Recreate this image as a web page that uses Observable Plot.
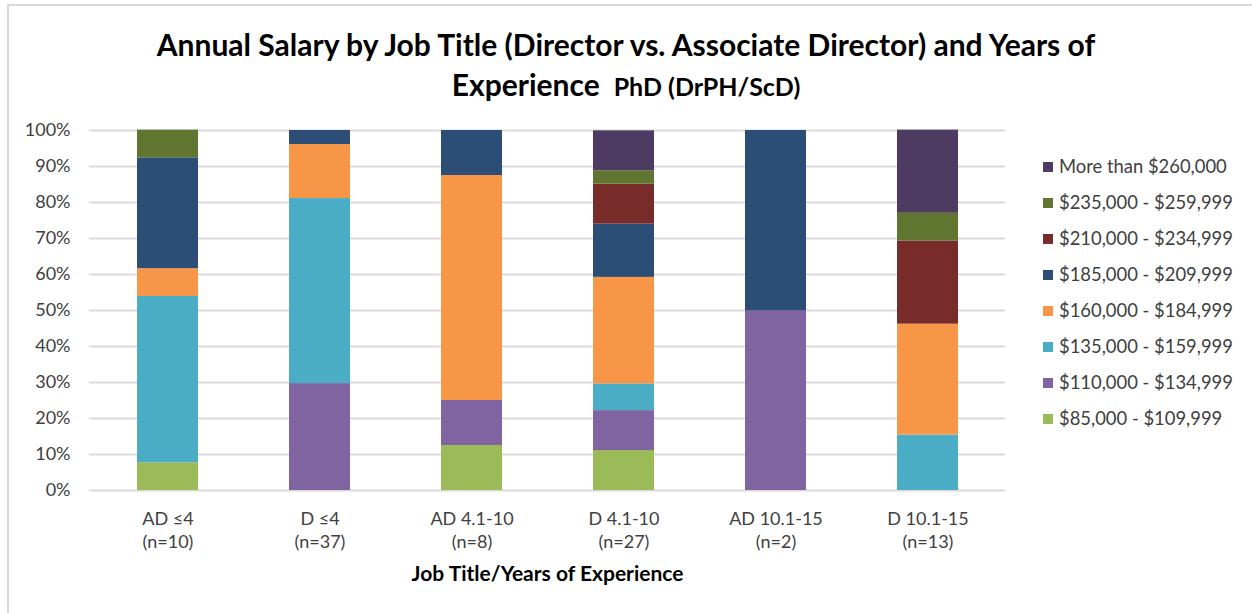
<!DOCTYPE html>
<html>
<head>
<meta charset="utf-8">
<script src="https://cdn.jsdelivr.net/npm/d3@7"></script>
<script src="https://cdn.jsdelivr.net/npm/@observablehq/plot@0.6"></script>
<style>
  html, body { margin: 0; padding: 0; background: #fff; }
  body { width: 1252px; height: 613px; position: relative; overflow: hidden; font-family: Lato, "Open Sans", sans-serif; }
  #frameTop { position: absolute; left: 7px; top: 4px; width: 1245px; height: 2px; background: #d9d9d9; }
  #frameLeft { position: absolute; left: 7px; top: 4px; width: 2px; height: 609px; background: #d9d9d9; }
  #title { position: absolute; left: 0; width: 1252px; top: 24px; text-align: center; font-weight: 700; color: #000; font-size: 30px; line-height: 40px; }
  #title .sub { font-size: 25px; margin-left: 14px; }
  #chart { position: absolute; left: 0; top: 110px; }
  #legend { position: absolute; left: 1043px; top: 155px; font-size: 18.4px; color: #404040; white-space: nowrap; }
  #legend .item { height: 36px; display: flex; align-items: flex-start; }
  #legend .sw { width: 10px; height: 10px; margin-right: 6px; margin-top: 7px; flex: none; }
</style>
</head>
<body>
<div id="frameTop"></div>
<div id="frameLeft"></div>
<div id="title">Annual Salary by Job Title (Director vs. Associate Director) and Years of<br>Experience<span class="sub">PhD (DrPH/ScD)</span></div>
<div id="chart"></div>
<div id="legend"></div>
<script>
// Categories (x axis)
const categories = ["AD ≤4\n(n=10)", "D ≤4\n(n=37)", "AD 4.1-10\n(n=8)", "D 4.1-10\n(n=27)", "AD 10.1-15\n(n=2)", "D 10.1-15\n(n=13)"];
// Salary brackets, bottom to top
const brackets = ["$85,000 - $109,999", "$110,000 - $134,999", "$135,000 - $159,999", "$160,000 - $184,999", "$185,000 - $209,999", "$210,000 - $234,999", "$235,000 - $259,999", "More than $260,000"];
const colors = ["#9BBB59", "#8064A2", "#4BACC6", "#F79646", "#2C4D75", "#772C2A", "#5F7530", "#4D3B62"];
// Percent values per bracket, one per category
const v85  = [7.7, 0, 12.5, 11.1, 0, 0];
const v110 = [0, 29.7, 12.5, 11.1, 50, 0];
const v135 = [46.2, 51.4, 0, 7.4, 0, 15.4];
const v160 = [7.7, 15.0, 62.5, 29.6, 0, 30.8];
const v185 = [30.8, 3.9, 12.5, 14.8, 50, 0];
const v210 = [0, 0, 0, 11.1, 0, 23.1];
const v235 = [7.7, 0, 0, 3.7, 0, 7.7];
const v260 = [0, 0, 0, 11.1, 0, 23.1];
const yTicks = [0, 10, 20, 30, 40, 50, 60, 70, 80, 90, 100];

const series = [v85, v110, v135, v160, v185, v210, v235, v260];
const data = [];
series.forEach((vals, si) => {
  vals.forEach((v, ci) => {
    if (v > 0) data.push({cat: categories[ci], bracket: brackets[si], value: v});
  });
});

const chart = Plot.plot({
  width: 1252,
  height: 490,
  marginTop: 20,
  marginBottom: 110,
  marginLeft: 89,
  marginRight: 247,
  style: {fontFamily: "Lato, 'Open Sans', sans-serif", fontSize: "18px", color: "#404040", background: "transparent"},
  x: {domain: categories, paddingInner: 0.6, paddingOuter: 0.3, label: null},
  y: {domain: [0, 100], label: null},
  color: {domain: brackets, range: colors},
  marks: [
    Plot.gridY(yTicks, {stroke: "#d9d9d9", strokeOpacity: 1, strokeWidth: 2}),
    Plot.axisY({ticks: yTicks, tickSize: 0, tickPadding: 19, tickFormat: d => d + "%", fontSize: 18, label: null}),
    Plot.barY(data, Plot.stackY({x: "cat", y: "value", fill: "bracket", order: null})),
    Plot.axisX({tickSize: 0, tickPadding: 17, lineHeight: 1.33, fontSize: 18, label: null}),
    Plot.text(["Job Title/Years of Experience"], {frameAnchor: "bottom", dy: 90, fontWeight: "bold", fontSize: 21, fill: "#000"})
  ]
});
document.getElementById("chart").appendChild(chart);

const legend = document.getElementById("legend");
for (let i = brackets.length - 1; i >= 0; i--) {
  const item = document.createElement("div");
  item.className = "item";
  const sw = document.createElement("div");
  sw.className = "sw";
  sw.style.background = colors[i];
  const label = document.createElement("span");
  label.textContent = brackets[i];
  item.appendChild(sw);
  item.appendChild(label);
  legend.appendChild(item);
}
</script>
</body>
</html>
